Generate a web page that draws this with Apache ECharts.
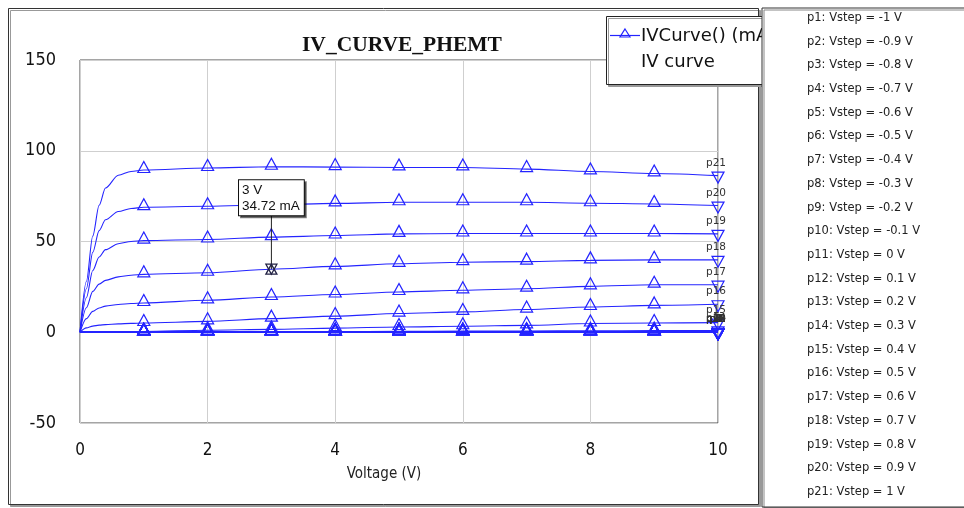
<!DOCTYPE html>
<html>
<head>
<meta charset="utf-8">
<script src="https://cdn.jsdelivr.net/npm/echarts@6/dist/echarts.min.js"></script>
<style>html,body{margin:0;padding:0;background:#fff;}#c{width:964px;height:508px;}</style>
</head>
<body>
<div id="c"></div>
<script>
// ---- data ----
const chartTitle = 'IV_CURVE_PHEMT';
const xAxisName = 'Voltage (V)';
const legendLine1 = 'IVCurve() (mA)';
const legendLine2 = 'IV curve';
const yTicks = [-50, 0, 50, 100, 150];
const xTicks = [0, 2, 4, 6, 8, 10];
const voltages = [0, 0.1, 0.2, 0.3, 0.4, 0.6, 0.8, 1, 2, 3, 4, 5, 6, 7, 8, 9, 10];
const vsteps = [-1, -0.9, -0.8, -0.7, -0.6, -0.5, -0.4, -0.3, -0.2, -0.1, 0, 0.1, 0.2, 0.3, 0.4, 0.5, 0.6, 0.7, 0.8, 0.9, 1];
const p1  = [0,0,0,0,0,0,0,0,0,0,0,0,0,0,0,0,0];
const p2  = [0,0,0,0,0,0,0,0,0,0,0,0,0,0,0,0,0];
const p3  = [0,0,0,0,0,0,0,0,0,0,0,0,0,0,0,0,0];
const p4  = [0,0,0,0,0,0,0,0,0,0,0,0,0,0,0,0,0];
const p5  = [0,0,0,0,0,0,0,0,0,0,0,0,0,0,0,0,0];
const p6  = [0,0,0,0,0,0,0,0,0,0,0,0,0,0,0,0,0];
const p7  = [0,0,0,0,0,0,0,0,0,0,0,0,0,0,0,0,0];
const p8  = [0,0,0,0,0,0,0,0,0,0,0,0,0,0,0,0,0];
const p9  = [0,0,0,0,0,0,0,0,0,0,0,0,0,0,0,0,0];
const p10 = [0,0,0,0,0,0,0,0,0,0,0,0,0,0,0,0,0];
const p11 = [0,0,0,0,0,0,0,0,0,0,0,0,0,0,0,0,0];
const p12 = [0,0,0,0,0,0,0,0,0,0,0.02,0.03,0.03,0.04,0.05,0.05,0.06];
const p13 = [0,0,0,0,0,0,0,0,0.05,0.1,0.1,0.15,0.15,0.2,0.2,0.25,0.25];
const p14 = [0,0,0,0,0,0.05,0.1,0.1,0.2,0.3,0.4,0.5,0.6,0.7,0.8,0.9,1.0];
const p15 = [0,0.15,0.25,0.3,0.33,0.37,0.4,0.42,1.1,1.6,2.3,2.9,3.3,3.8,4.8,5.1,5.3];
const p16 = [0,2.4,3.4,3.9,4.2,4.6,4.9,5.1,6.0,7.5,8.9,10.3,11.2,12.5,13.9,14.8,15.4];
const p17 = [0,7.5,11.5,13.4,14.4,15.3,15.8,16.1,17.6,19.4,20.8,22.2,23.1,24.0,25.3,26.2,26.2];
const p18 = [0,13.5,22.5,26.5,28.6,30.5,31.4,31.9,32.8,34.72,36.3,37.7,38.6,38.9,39.6,39.9,39.9];
const p19 = [0,19,34,41.5,45.5,48.8,50,50.5,51.1,52.4,53.3,54.2,54.4,54.4,54.4,54.4,54.2];
const p20 = [0,24,44,56,62,66.5,68.2,68.9,69.4,70.2,71.0,71.6,71.6,71.6,71.1,70.7,69.8];
const p21 = [0,28,53,70,79.5,86.5,88.6,89.4,90.5,91.2,91.0,90.8,90.8,89.9,88.6,87.5,86.3];
const curves = [p1,p2,p3,p4,p5,p6,p7,p8,p9,p10,p11,p12,p13,p14,p15,p16,p17,p18,p19,p20,p21];
const markerCurve = 18;   // p18 carries the marker
const markerVoltage = 3;

const BLUE = '#2424ff';
const NARROW = "'Liberation Sans Narrow','DejaVu Sans Condensed',sans-serif";
const names = vsteps.map((v, i) => 'p' + (i + 1) + ': Vstep = ' + v + ' V');

const series = curves.map((arr, ci) => {
  const n = ci + 1;
  const data = voltages.map((v, i) => {
    const last = i === voltages.length - 1;
    const item = {
      value: [v, arr[i]],
      symbol: (Number.isInteger(v) && v > 0) ? 'triangle' : 'none',
      symbolRotate: last ? 180 : 0,
      symbolOffset: last ? [0, 2] : [0, -3]
    };
    if (n === markerCurve && v === markerVoltage) item.symbol = 'none';
    if (last) {
      item.label = {
        show: true, position: 'top', distance: 3, formatter: 'p' + n,
        fontFamily: 'DejaVu Sans', fontSize: 10.5, color: '#333', offset: [-2, 0]
      };
    }
    return item;
  });
  const s = {
    name: names[ci],
    type: 'line',
    data: data,
    smooth: 0.3,
    smoothMonotone: 'x',
    showAllSymbol: true,
    symbolSize: [12, 11],
    lineStyle: { color: BLUE, width: 1.1 },
    itemStyle: { color: 'transparent', borderColor: BLUE, borderWidth: 1.2 },
    emphasis: { disabled: true },
    z: 3
  };
  if (n === markerCurve) {
    const idx = voltages.indexOf(markerVoltage);
    const coord = [markerVoltage, arr[idx]];
    s.markPoint = {
      silent: true,
      animation: false,
      data: [
        { coord: coord, symbol: 'rect', symbolSize: [1, 54], symbolOffset: [0, -27],
          itemStyle: { color: '#222' }, label: { show: false } },
        { coord: coord, symbol: 'triangle', symbolSize: [11, 10],
          itemStyle: { color: 'transparent', borderColor: '#222244', borderWidth: 1.3 }, label: { show: false } },
        { coord: coord, symbol: 'triangle', symbolSize: [11, 10], symbolRotate: 180,
          itemStyle: { color: 'transparent', borderColor: '#222244', borderWidth: 1.3 }, label: { show: false } },
        { coord: coord, symbol: 'rect', symbolSize: 0.1, itemStyle: { color: 'transparent' },
          label: {
            show: true, position: 'top', distance: 54, align: 'center',
            formatter: '{a|' + markerVoltage + ' V}\n{a|' + arr[idx].toFixed(2) + ' mA}',
            rich: { a: { align: 'left', fontFamily: "'Liberation Sans',Arial,sans-serif", fontSize: 13.5, lineHeight: 16, color: '#111' } },
            backgroundColor: '#fff', borderColor: '#111', borderWidth: 1,
            padding: [2, 4, 1, 3],
            shadowColor: 'rgba(0,0,0,0.5)', shadowOffsetX: 2, shadowOffsetY: 2, shadowBlur: 0
          } }
      ]
    };
  }
  return s;
});

const chart = echarts.init(document.getElementById('c'), null, { renderer: 'canvas' });
chart.setOption({
  animation: false,
  backgroundColor: '#fff',
  title: {
    text: chartTitle, left: 297, top: 29,
    textStyle: { fontFamily: "'Liberation Serif','Times New Roman',serif", fontWeight: 'bold', fontSize: 21.5, color: '#111' }
  },
  legend: {
    orient: 'vertical', left: 762, top: 8, height: 497,
    padding: [2, 110, 7, 38],
    itemGap: 7.7, itemWidth: 1, itemHeight: 14,
    icon: 'rect',
    itemStyle: { opacity: 0 }, lineStyle: { opacity: 0 },
    selectedMode: false,
    backgroundColor: '#fff', borderColor: '#333', borderWidth: 1,
    shadowColor: '#888', shadowOffsetX: 2, shadowOffsetY: 2, shadowBlur: 0,
    textStyle: { fontFamily: 'DejaVu Sans', fontSize: 11.5, lineHeight: 14, color: '#222' },
    data: names,
    z: 100
  },
  grid: { left: 80, right: 246, top: 60, bottom: 85, show: true, borderColor: '#4a4a4a', borderWidth: 1, backgroundColor: 'transparent' },
  xAxis: {
    type: 'value', min: xTicks[0], max: xTicks[xTicks.length - 1], interval: 2,
    name: xAxisName, nameLocation: 'middle', nameGap: 44,
    nameTextStyle: { fontFamily: NARROW, fontSize: 15, color: '#222', padding: [0, 30, 0, 0] },
    axisLine: { show: false }, axisTick: { show: false },
    axisLabel: { margin: 19, fontFamily: NARROW, fontSize: 17, color: '#111' },
    splitLine: { show: true, lineStyle: { color: '#cfcfcf', width: 1 } }
  },
  yAxis: {
    type: 'value', min: yTicks[0], max: yTicks[yTicks.length - 1], interval: 50,
    axisLine: { show: false }, axisTick: { show: false },
    axisLabel: { margin: 24, fontFamily: NARROW, fontSize: 18, color: '#111' },
    splitLine: { show: true, lineStyle: { color: '#cfcfcf', width: 1 } }
  },
  graphic: [
    { type: 'rect', z: -10, silent: true,
      shape: { x: 8.5, y: 8.5, width: 750, height: 496 },
      style: { fill: '#fff', stroke: '#333', lineWidth: 1, shadowColor: '#999', shadowOffsetX: 2, shadowOffsetY: 2, shadowBlur: 0 } },
    { type: 'rect', z: 50, silent: true, shape: { x: 606.5, y: 16.5, width: 190, height: 68 },
      style: { fill: '#fff', stroke: '#222', lineWidth: 1, shadowColor: '#999', shadowOffsetX: 2, shadowOffsetY: 2, shadowBlur: 0 } },
    { type: 'line', z: 51, silent: true, shape: { x1: 610, y1: 35.5, x2: 640, y2: 35.5 }, style: { stroke: BLUE, lineWidth: 1.2 } },
    { type: 'polygon', z: 51, silent: true, shape: { points: [[625, 29], [630, 37], [620, 37]] }, style: { fill: 'transparent', stroke: BLUE, lineWidth: 1.2 } },
    { type: 'text', z: 51, silent: true, x: 641, y: 36, style: { text: legendLine1, font: "18px 'DejaVu Sans'", fill: '#111', verticalAlign: 'middle' } },
    { type: 'text', z: 51, silent: true, x: 641, y: 62, style: { text: legendLine2, font: "18px 'DejaVu Sans'", fill: '#111', verticalAlign: 'middle' } }
  ],
  series: series
});
</script>
</body>
</html>
